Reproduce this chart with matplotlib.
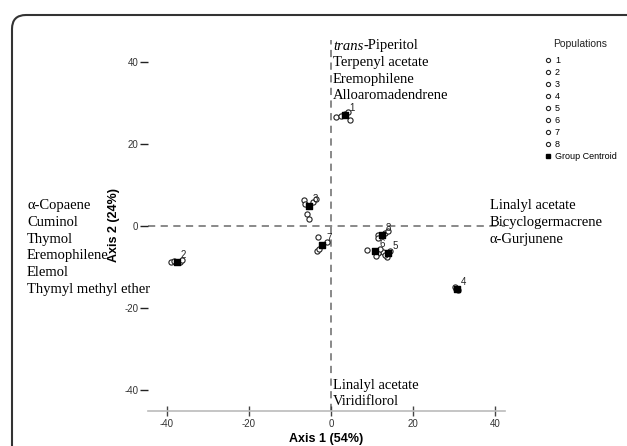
import matplotlib
matplotlib.use("Agg")
import matplotlib.pyplot as plt
from matplotlib.patches import FancyBboxPatch
from matplotlib.transforms import IdentityTransform
from matplotlib.lines import Line2D

plt.rcParams["axes.unicode_minus"] = False

# cases per population (Axis 1, Axis 2)
g1_x = [1.2, 2.4, 3.4, 4.1, 4.6]
g1_y = [26.5, 26.7, 27.2, 27.7, 25.7]
g2_x = [-39.0, -38.3, -36.8, -36.3]
g2_y = [-8.8, -8.6, -8.8, -8.3]
g3_x = [-6.6, -6.3, -4.4, -3.7, -5.9, -5.4]
g3_y = [6.4, 5.4, 5.9, 6.6, 2.9, 1.7]
g4_x = [30.2, 31.0, 30.5]
g4_y = [-15.0, -15.7, -15.4]
g5_x = [12.7, 13.7, 14.4, 13.2]
g5_y = [-6.4, -7.6, -6.1, -7.1]
g6_x = [8.8, 11.5, 12.0, 11.0]
g6_y = [-5.9, -6.6, -5.6, -7.4]
g7_x = [-3.2, -1.0, -3.4, -2.9]
g7_y = [-2.7, -3.9, -6.1, -5.6]
g8_x = [11.5, 11.5, 13.2, 13.9]
g8_y = [-2.2, -2.9, -1.7, -1.2]

pop_labels = ["1", "2", "3", "4", "5", "6", "7", "8"]
centroid_x = [3.4, -37.6, -5.4, 30.7, 13.9, 10.7, -2.2, 12.4]
centroid_y = [27.0, -8.8, 4.8, -15.4, -6.6, -6.1, -4.7, -2.2]

xticks = [-40, -20, 0, 20, 40]
yticks = [-40, -20, 0, 20, 40]

top_compounds = ["Terpenyl acetate", "Eremophilene", "Alloaromadendrene"]
left_compounds = ["α-Copaene", "Cuminol", "Thymol", "Eremophilene", "Elemol",
                  "Thymyl methyl ether"]
right_compounds = ["Linalyl acetate", "Bicyclogermacrene", "α-Gurjunene"]
bottom_compounds = ["Linalyl acetate", "Viridiflorol"]

W, H = 627, 446
sans = ["Liberation Sans", "DejaVu Sans"]
serif = ["Liberation Serif", "DejaVu Serif"]


def fx(px):
    return px / W


def fy(py):
    return 1 - py / H


fig = plt.figure(figsize=(6.27, 4.46), dpi=100)
ax = fig.add_axes([fx(148), fy(411), fx(505) - fx(148), fy(40) - fy(411)])

groups = [(g1_x, g1_y), (g2_x, g2_y), (g3_x, g3_y), (g4_x, g4_y),
          (g5_x, g5_y), (g6_x, g6_y), (g7_x, g7_y), (g8_x, g8_y)]

ax.axvline(0, color="#808080", lw=1.3, dashes=(4, 3), zorder=1)
ax.axhline(0, color="#808080", lw=1.3, dashes=(4, 3), zorder=1)

for gx, gy in groups:
    ax.scatter(gx, gy, s=14, facecolors="white", edgecolors="#222222",
               linewidths=0.8, zorder=3)
ax.scatter(centroid_x, centroid_y, s=18, marker="s", color="black", zorder=4)
for lab, cx, cy in zip(pop_labels, centroid_x, centroid_y):
    ax.annotate(lab, (cx, cy), xytext=(3, 3), textcoords="offset points",
                fontsize=7, family=sans, color="#222222", zorder=5)

ax.set_xlim(-44.6, 42.4)
ax.set_ylim(-45.1, 45.3)
ax.set_xticks(xticks)
ax.set_yticks(yticks)
for side in ["top", "right", "left"]:
    ax.spines[side].set_visible(False)
ax.spines["bottom"].set_color("#bbbbbb")
ax.spines["bottom"].set_linewidth(1.2)
ax.tick_params(axis="x", direction="inout", length=7, width=1.0, color="#444444",
               labelsize=7, labelcolor="#333333", pad=2)
ax.tick_params(axis="y", direction="out", length=6, width=1.0, color="#222222",
               labelsize=7, labelcolor="#333333", pad=1)
for lbl in ax.get_xticklabels() + ax.get_yticklabels():
    lbl.set_family(sans)

ax.set_xlabel("Axis 1 (54%)", fontsize=9, fontweight="bold", family=sans, labelpad=3)
ax.set_ylabel("Axis 2 (24%)", fontsize=9, fontweight="bold", family=sans, labelpad=3)

# compound annotations
step = 16.6
fs = 10.5
t = fig.text(fx(333), fy(46), "trans", style="italic", fontsize=fs, family=serif,
             va="center", ha="left")
ax.annotate("-Piperitol", xy=(1, 0.5), xycoords=t, va="center", ha="left",
            fontsize=fs, family=serif)
for i, name in enumerate(top_compounds):
    fig.text(fx(333), fy(46 + step * (i + 1)), name, fontsize=fs, family=serif,
             va="center")
for i, name in enumerate(left_compounds):
    fig.text(fx(27), fy(206 + step * i), name, fontsize=fs, family=serif, va="center")
for i, name in enumerate(right_compounds):
    fig.text(fx(490), fy(206 + step * i), name, fontsize=fs, family=serif, va="center")
for i, name in enumerate(bottom_compounds):
    fig.text(fx(333), fy(385 + step * i), name, fontsize=fs, family=serif, va="center")

# legend
fig.text(fx(580), fy(44), "Populations", fontsize=7.5, family=sans,
         ha="center", va="center", color="#222222")
handles = [Line2D([], [], ls="none", marker="o", ms=3, mfc="white", mec="#222222",
                  mew=0.8) for _ in pop_labels]
handles.append(Line2D([], [], ls="none", marker="s", ms=3.5, color="black"))
leg = fig.legend(handles, pop_labels + ["Group Centroid"],
                 loc="upper left", bbox_to_anchor=(fx(545), fy(56)), frameon=False,
                 fontsize=6.5, handlelength=0.6, handletextpad=0.5,
                 labelspacing=0.33, borderaxespad=0, borderpad=0)
for txt in leg.get_texts():
    txt.set_family(sans)

# rounded outer frame
frame = FancyBboxPatch((12, -30), 660, H - 15 + 30,
                       boxstyle="round,pad=0,rounding_size=14",
                       transform=IdentityTransform(), facecolor="none",
                       edgecolor="#333333", lw=1.5, clip_on=False)
fig.patches.append(frame)

fig.savefig("out.png", dpi=100)
